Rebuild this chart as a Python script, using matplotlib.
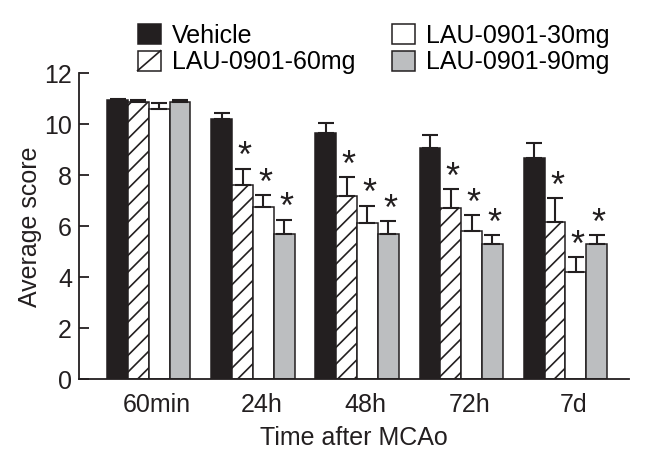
import matplotlib
matplotlib.use('Agg')
from matplotlib import pyplot as plt
from matplotlib.patches import Patch, Rectangle
from matplotlib.lines import Line2D
from matplotlib.legend_handler import HandlerBase
import numpy as np

plt.rcParams['font.family'] = ['Liberation Sans', 'DejaVu Sans']
plt.rcParams['hatch.linewidth'] = 1.2

#%% data
times = ['60min', '24h', '48h', '72h', '7d']
groups = ['Vehicle', 'LAU-0901-60mg', 'LAU-0901-30mg', 'LAU-0901-90mg']

vehicle = [10.95, 10.22, 9.66, 9.06, 8.69]
mg60 = [10.89, 7.61, 7.19, 6.73, 6.18]
mg30 = [10.59, 6.76, 6.14, 5.83, 4.20]
mg90 = [10.89, 5.70, 5.70, 5.29, 5.29]

vehicle_err = [0.05, 0.24, 0.38, 0.53, 0.58]
mg60_err = [0.06, 0.65, 0.74, 0.72, 0.94]
mg30_err = [0.26, 0.47, 0.67, 0.61, 0.60]
mg90_err = [0.06, 0.56, 0.51, 0.37, 0.37]

# significance vs vehicle
sig60 = [False, True, True, True, True]
sig30 = [False, True, True, True, True]
sig90 = [False, True, True, True, True]

INK = '#231f20'


class BoxHandler(HandlerBase):
    # legend box, with one corner-to-corner stroke for hatched patches
    def create_artists(self, legend, orig, xd, yd, width, height, fontsize, trans):
        r = Rectangle((-xd, -yd), width, height, facecolor=orig.get_facecolor(),
                      edgecolor=INK, linewidth=1.1, transform=trans)
        arts = [r]
        if orig.get_hatch():
            arts.append(Line2D([-xd, -xd + width], [-yd, -yd + height],
                               color=INK, linewidth=1.2, transform=trans))
        return arts


#%% plot
fig = plt.figure(figsize=(6.45, 4.71), dpi=100)
ax = fig.add_axes([0.1225, 0.1947, 0.8525, 0.6497])

x = np.arange(len(times))
w = 0.2
series = [
    (vehicle, vehicle_err, None, INK, ''),
    (mg60, mg60_err, sig60, 'white', '//'),
    (mg30, mg30_err, sig30, 'white', ''),
    (mg90, mg90_err, sig90, '#bcbec0', ''),
]
for k, (vals, err, sig, col, hatch) in enumerate(series):
    pos = x - 1.5 * w + k * w
    ax.bar(pos, vals, w, color=col, edgecolor=INK, linewidth=1.1,
           hatch=hatch, zorder=2)
    ax.errorbar(pos, vals, yerr=[np.zeros(len(vals)), err], fmt='none',
                ecolor=INK, elinewidth=1.5, capsize=6, capthick=1.5,
                zorder=3)
    if sig is not None:
        for p, v, e, s in zip(pos, vals, err, sig):
            if s:
                ax.text(p + 0.02, v + e + 0.05, '*', ha='center',
                        va='baseline', fontsize=26, color=INK)

ax.set_xlim(-0.67, 4.61)
ax.set_ylim(0, 12)
ax.set_yticks(range(0, 13, 2))
ax.set_xticks(x + 0.08)
ax.set_xticklabels(times)
ax.tick_params(axis='x', length=0, labelsize=18, pad=10, colors=INK)
ax.tick_params(axis='y', direction='in', length=7, width=1.3,
               labelsize=18, pad=5, colors=INK)
for s in ['top', 'right']:
    ax.spines[s].set_visible(False)
for s in ['left', 'bottom']:
    ax.spines[s].set_linewidth(1.3)
    ax.spines[s].set_color(INK)
ax.set_xlabel('Time after MCAo', fontsize=18, labelpad=6, color=INK)
ax.set_ylabel('Average score', fontsize=18, labelpad=1.5, color=INK)

handles = [Patch(facecolor=c, edgecolor=INK, hatch=h) for (_, _, _, c, h) in series]
fig.legend(handles, groups, ncol=2, loc='upper left',
           bbox_to_anchor=(0.194, 0.976), frameon=False, fontsize=18,
           handler_map={Patch: BoxHandler()},
           handlelength=0.92, handleheight=0.85, handletextpad=0.45,
           columnspacing=1.45, labelspacing=0.1, borderpad=0)

fig.savefig('out.png', dpi=100)
